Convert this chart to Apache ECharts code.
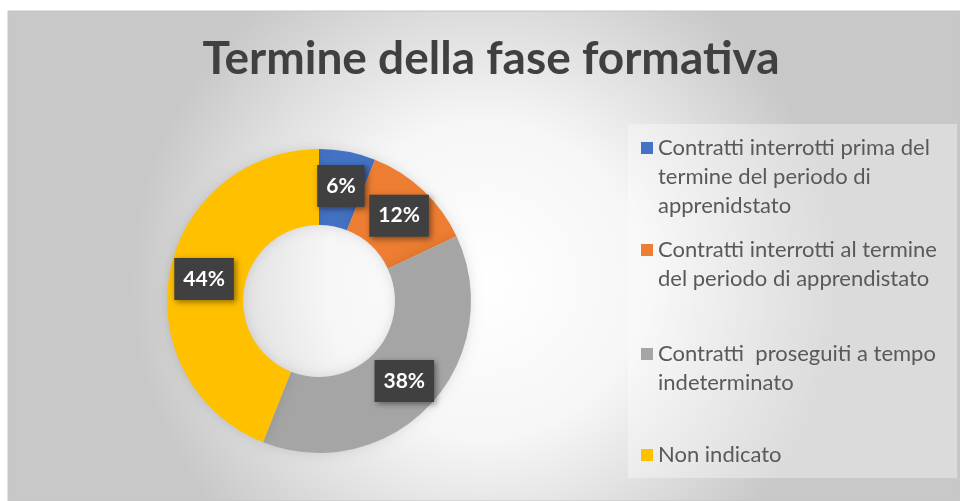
<!DOCTYPE html>
<html>
<head>
<meta charset="utf-8">
<script src="https://cdn.jsdelivr.net/npm/echarts@6/dist/echarts.min.js"></script>
<style>
  html, body { margin: 0; padding: 0; background: #ffffff; }
  #chart { width: 960px; height: 501px; }
</style>
</head>
<body>
<div id="chart"></div>
<script>
// categorie e valori (percentuali)
const categories = [
  'Contratti interrotti prima del\ntermine del periodo di\napprenidstato',
  'Contratti interrotti al termine\ndel periodo di apprendistato',
  'Contratti  proseguiti a tempo\nindeterminato',
  'Non indicato'
]
const values = [6, 12, 38, 44]
const colors = ['#4472C4', '#ED7D31', '#A5A5A5', '#FFC000']
// centro della prima riga di ogni voce di legenda
const legendRowY = [148, 250, 354, 455]

const LINE_H = 29
const chart = echarts.init(document.getElementById('chart'))

// una legenda per voce, icona allineata alla prima riga
const legends = categories.map((name, i) => {
  const n = name.split('\n').length
  const pad = '\n'.repeat(n - 1)
  return {
    data: [name],
    left: 641,
    top: legendRowY[i] - (2 * n - 1) * LINE_H / 2,
    padding: 0,
    itemWidth: 12,
    itemHeight: 12,
    itemGap: 7,
    icon: 'rect',
    selectedMode: false,
    formatter: t => pad + t,
    textStyle: {
      fontFamily: 'Lato',
      fontSize: 22,
      lineHeight: LINE_H,
      color: '#595959'
    }
  }
})

const option = {
  backgroundColor: '#ffffff',
  color: colors,
  graphic: [
    {
      type: 'rect',
      silent: true,
      z: -10,
      shape: { x: 8, y: 11, width: 952, height: 490 },
      style: {
        fill: {
          type: 'radial', x: 0.5, y: 0.55, r: 0.72,
          colorStops: [
            { offset: 0, color: '#ffffff' },
            { offset: 0.45, color: '#f6f6f6' },
            { offset: 1, color: '#c8c8c8' }
          ]
        },
        stroke: '#c4c4c4',
        lineWidth: 1
      }
    },
    {
      type: 'rect',
      silent: true,
      z: -9,
      shape: { x: 628, y: 124, width: 329, height: 354 },
      style: { fill: 'rgba(255,255,255,0.35)' }
    }
  ],
  title: {
    text: 'Termine della fase formativa',
    left: 491,
    top: 36,
    padding: 0,
    textAlign: 'center',
    textStyle: {
      fontFamily: 'Lato',
      fontWeight: 'bold',
      fontSize: 46,
      color: '#404040'
    }
  },
  legend: legends,
  series: [
    {
      type: 'pie',
      center: [319, 301],
      radius: [76, 152],
      startAngle: 90,
      clockwise: true,
      avoidLabelOverlap: false,
      silent: true,
      itemStyle: {
        shadowBlur: 12,
        shadowColor: 'rgba(0,0,0,0.12)'
      },
      label: {
        show: true,
        position: 'inside',
        formatter: p => p.value + '%',
        fontFamily: 'Lato',
        fontWeight: 'bold',
        fontSize: 21,
        lineHeight: 22,
        color: '#ffffff',
        backgroundColor: '#404040',
        padding: [10, 9],
        shadowBlur: 6,
        shadowOffsetX: 2,
        shadowOffsetY: 2,
        shadowColor: 'rgba(0,0,0,0.45)'
      },
      labelLine: { show: false },
      data: categories.map((c, i) => ({ name: c, value: values[i] }))
    }
  ]
}
chart.setOption(option)
</script>
</body>
</html>
